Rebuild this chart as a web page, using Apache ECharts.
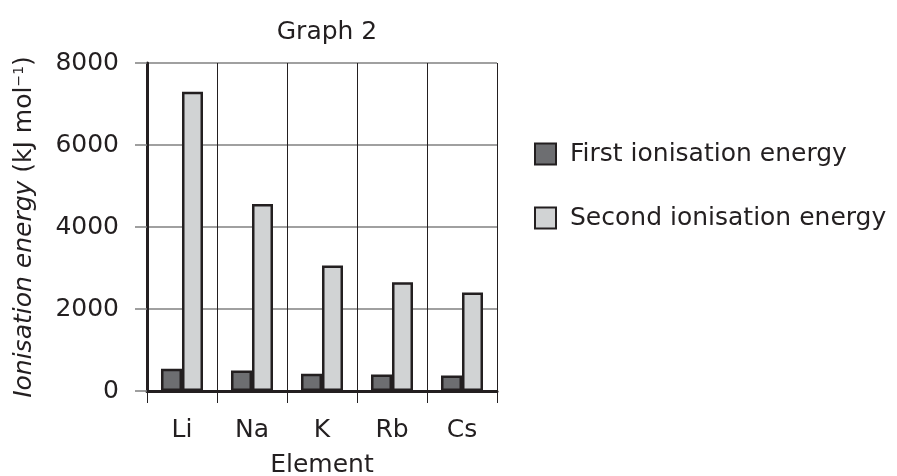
<!DOCTYPE html>
<html>
<head>
<meta charset="utf-8">
<script src="https://cdn.jsdelivr.net/npm/echarts@6/dist/echarts.min.js"></script>
<style>
  html, body { margin: 0; padding: 0; background: #fff; }
  #chart { width: 897px; height: 476px; }
</style>
</head>
<body>
<div id="chart"></div>
<script>
var elements = ['Li', 'Na', 'K', 'Rb', 'Cs'];
var firstIE = [540, 500, 420, 400, 380];
var secondIE = [7300, 4560, 3060, 2650, 2400];
var seriesNames = ['First ionisation energy', 'Second ionisation energy'];

var font = 'DejaVu Sans';
var ink = '#231f20';
var myChart = echarts.init(document.getElementById('chart'));

var option = {
    animation: false,
    backgroundColor: '#fff',
    title: {
        text: 'Graph 2',
        left: 322,
        textAlign: 'center',
        top: 15,
        textStyle: {fontFamily: font, fontSize: 25, fontWeight: 'normal', color: ink}
    },
    legend: {
        orient: 'vertical',
        left: 534,
        top: 141,
        padding: 0,
        itemWidth: 21,
        itemHeight: 21,
        itemGap: 38,
        icon: 'rect',
        data: seriesNames,
        textStyle: {fontFamily: font, fontSize: 25, color: ink, lineHeight: 26, padding: [0, 0, 0, 9]}
    },
    grid: {left: 147, right: 400, top: 63, bottom: 85, outerBoundsMode: 'none', containLabel: false},
    xAxis: {
        type: 'category',
        data: elements,
        name: 'Element',
        nameLocation: 'middle',
        nameGap: 62,
        nameTextStyle: {fontFamily: font, fontSize: 25, color: ink},
        axisLine: {lineStyle: {color: ink, width: 3}},
        axisTick: {show: true, length: 12, lineStyle: {color: ink, width: 1}},
        axisLabel: {margin: 27, fontFamily: font, fontSize: 25, color: ink},
        splitLine: {show: true, lineStyle: {color: ink, width: 1}}
    },
    yAxis: {
        type: 'value',
        min: 0,
        max: 8000,
        interval: 2000,
        name: '{it|Ionisation energy} (kJ mol{sup|−1})',
        nameLocation: 'middle',
        nameGap: 110,
        nameTextStyle: {
            fontFamily: font, fontSize: 25, color: ink,
            rich: {
                it: {fontFamily: font, fontSize: 25, fontStyle: 'italic', color: ink},
                sup: {fontFamily: font, fontSize: 14, color: ink, verticalAlign: 'top', padding: [0, 0, 10, 0]}
            }
        },
        axisLine: {show: true, lineStyle: {color: ink, width: 3}},
        axisTick: {show: true, length: 12, lineStyle: {color: '#808080', width: 1.5}},
        axisLabel: {
            margin: 28, fontFamily: font, fontSize: 25, color: ink,
            formatter: function (v) { return String(v); }
        },
        splitLine: {show: true, lineStyle: {color: '#808080', width: 1.5}}
    },
    series: [
        {
            name: seriesNames[0],
            type: 'bar',
            data: firstIE,
            barGap: '0%',
            barCategoryGap: '40%',
            itemStyle: {color: '#6d6e71', borderColor: ink, borderWidth: 2.5}
        },
        {
            name: seriesNames[1],
            type: 'bar',
            data: secondIE,
            barGap: '0%',
            barCategoryGap: '40%',
            itemStyle: {color: '#d1d3d4', borderColor: ink, borderWidth: 2.5}
        }
    ]
};

myChart.setOption(option);
</script>
</body>
</html>
